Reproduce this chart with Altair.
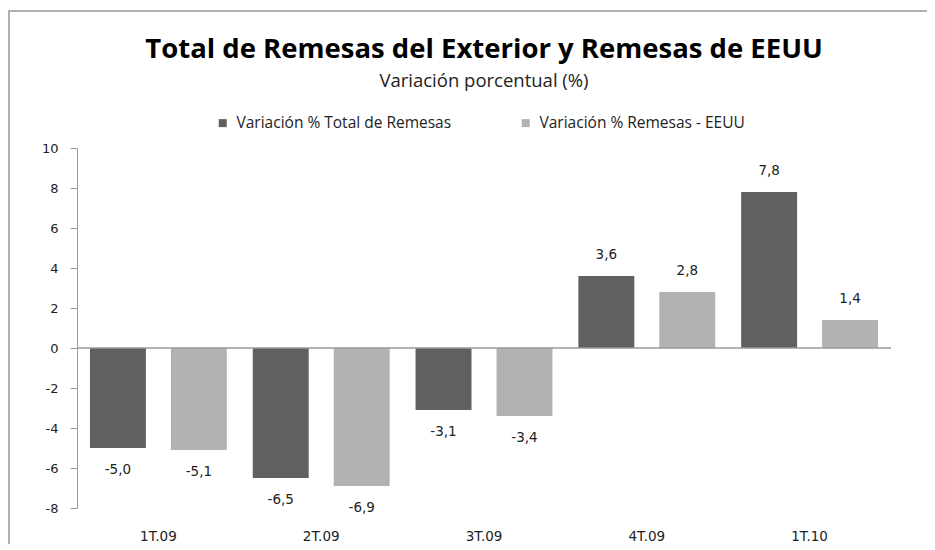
import altair as alt
import pandas as pd

categories = ["1T.09", "2T.09", "3T.09", "4T.09", "1T.10"]
series_names = ["Variación % Total  de Remesas", "Variación % Remesas - EEUU"]
total_remesas = [-5.0, -6.5, -3.1, 3.6, 7.8]
remesas_eeuu = [-5.1, -6.9, -3.4, 2.8, 1.4]
y_ticks = [-8, -6, -4, -2, 0, 2, 4, 6, 8, 10]
colors = ["#606060", "#b2b2b2"]

rows = []
for i, c in enumerate(categories):
    rows.append({"cat": c, "serie": series_names[0], "valor": total_remesas[i]})
    rows.append({"cat": c, "serie": series_names[1], "valor": remesas_eeuu[i]})
df = pd.DataFrame(rows)

W, H = 814, 360
PL, PT, PR, PB = 69, 140, 36, 36
yscale = alt.Scale(domain=[-8, 10], nice=False, zero=False)
yaxis = alt.Axis(values=y_ticks, grid=False, domainColor="#9a9a9a", tickColor="#9a9a9a",
                 tickSize=7, labelPadding=12, labelFont="DejaVu Sans", labelFontSize=13,
                 labelColor="#222222", labelOverlap=False, title=None,
                 labelExpr="datum.value < 0 ? '-' + abs(datum.value) : '' + datum.value")

x = alt.X("cat:N", sort=categories, title=None,
          scale=alt.Scale(paddingInner=0, paddingOuter=0),
          axis=alt.Axis(labelAngle=0, domain=False, ticks=False, labelPadding=21,
                        labelFont="DejaVu Sans", labelFontSize=13.5, labelColor="#222222"))
xoff = alt.XOffset("serie:N", sort=series_names,
                   scale=alt.Scale(paddingInner=0.309, paddingOuter=0.16))
y = alt.Y("valor:Q", title=None, scale=yscale, axis=yaxis)
color = alt.Color("serie:N", sort=series_names,
                  scale=alt.Scale(domain=series_names, range=colors),
                  legend=alt.Legend(title=None, orient="none", direction="horizontal",
                                    legendX=138, legendY=-33, symbolType="square",
                                    symbolSize=64, symbolStrokeWidth=0, columnPadding=62,
                                    labelFont="Open Sans", labelFontSize=15.5, labelColor="#222222",
                                    labelOffset=6, labelLimit=400))

base = alt.Chart(df)

bars = base.mark_bar().encode(x=x, xOffset=xoff, y=y, color=color)

lab_expr = "(datum.valor < 0 ? '-' : '') + replace(format(abs(datum.valor), '.1f'), '.', ',')"
text_pos = base.transform_filter("datum.valor >= 0").transform_calculate(lab=lab_expr).mark_text(
    dy=-21, font="DejaVu Sans", fontSize=13.5, color="#222222", baseline="middle"
).encode(x=x, xOffset=xoff, y=y, text="lab:N")
text_neg = base.transform_filter("datum.valor < 0").transform_calculate(lab=lab_expr).mark_text(
    dy=22, font="DejaVu Sans", fontSize=13.5, color="#222222", baseline="middle"
).encode(x=x, xOffset=xoff, y=y, text="lab:N")

zero = base.transform_aggregate(n="count()").transform_calculate(valor="0").mark_rule(
    color="#9a9a9a", strokeWidth=1.5
).encode(y=y)

frame_top = alt.Chart(pd.DataFrame({"z": [0]})).mark_rule(color="#b0b0b0", strokeWidth=2).encode(
    x=alt.value(-PL), x2=alt.value(W + PR), y=alt.value(-PT + 3)
)
frame_left = alt.Chart(pd.DataFrame({"z": [0]})).mark_rule(color="#b0b0b0", strokeWidth=2).encode(
    x=alt.value(-PL + 1), y=alt.value(-PT + 3), y2=alt.value(H + PB)
)

chart = alt.layer(bars, zero, text_pos, text_neg, frame_top, frame_left).properties(
    width=W, height=H,
    autosize=alt.AutoSizeParams(type="none"),
    padding={"left": PL, "top": PT, "right": PR, "bottom": PB},
    title=alt.TitleParams(
        text="Total de Remesas del Exterior  y Remesas de EEUU",
        subtitle="Variación  porcentual (%)",
        anchor="middle", frame="group",
        font="Open Sans", fontSize=27.5, fontWeight="bold", color="#000000",
        subtitleFont="Open Sans", subtitleFontSize=18.5, subtitleColor="#222222",
        subtitlePadding=8, offset=-80,
    ),
).configure_view(stroke=None)

chart.save("out.html", embed_options={"renderer": "svg", "actions": False})
